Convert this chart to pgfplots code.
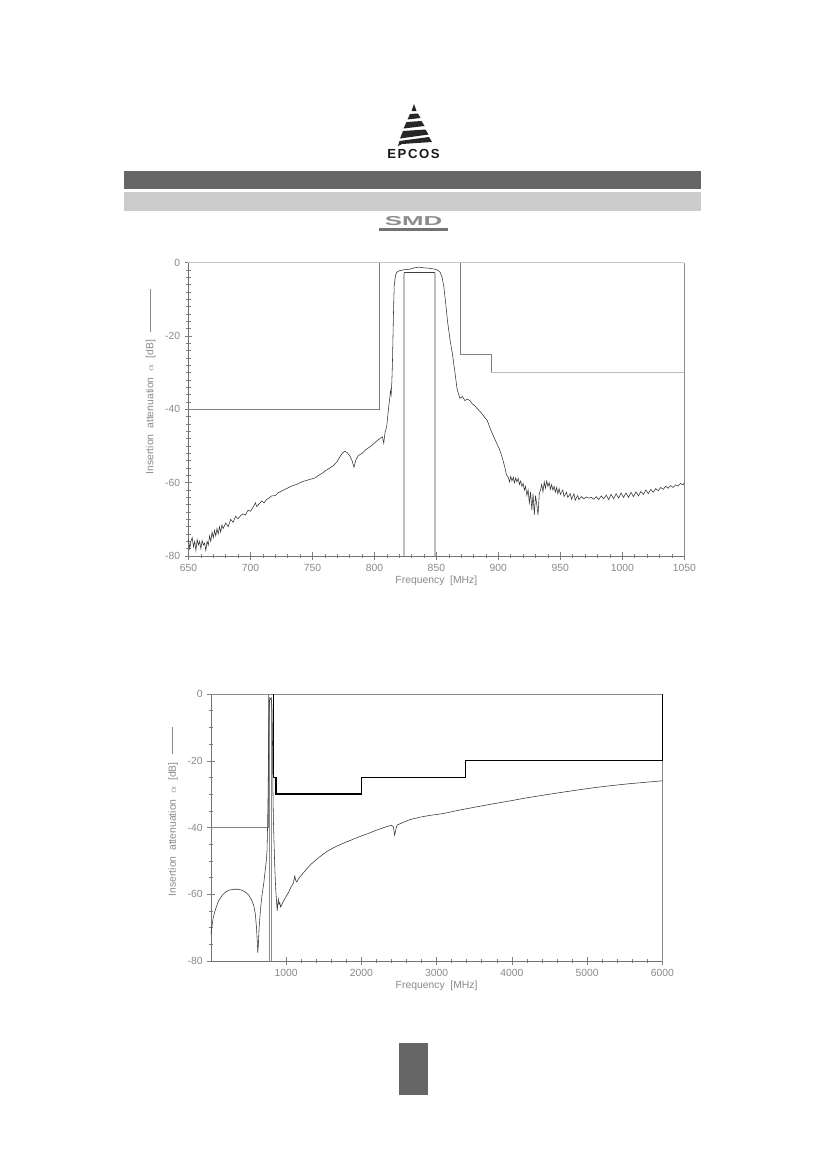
\documentclass[border=0pt]{standalone}
\usepackage{pgfplots}
\pgfplotsset{compat=1.18}
\usepackage{fontspec}
\setmainfont{Liberation Sans}
\definecolor{bardark}{HTML}{666666}
\definecolor{barlight}{HTML}{CCCCCC}
\definecolor{labgray}{HTML}{8A8A8A}
\definecolor{curve}{HTML}{333333}
\pgfplotsset{
  myax/.style={
    scale only axis, axis lines=left,
    axis line style={-, draw=black!55, line width=0.6pt},
    tick align=center,
    tick style={black!50, line width=0.4pt},
    major tick length=1.8mm, minor tick length=1.1mm,
    ticklabel style={font=\fontsize{7.5}{8}\selectfont, text=labgray},
    label style={font=\fontsize{7.5}{8}\selectfont, text=labgray},
    xlabel style={yshift=1.4mm},
    /pgf/number format/assume math mode=true,
    /pgf/number format/1000 sep={},
    clip=false,
    ymin=-80, ymax=0, ytick={-80,-60,...,0},
  }
}
\begin{document}
\begin{tikzpicture}
\path[use as bounding box, fill=white] (0,0) rectangle (210mm,-297.2mm);
\begin{scope}[x=0.25424mm,y=-0.25424mm]
  % logo
  \fill[black!85] (414,104) -- (411.5,111) -- (416.5,111) -- cycle;
  \fill[black!85] (410,114) -- (418,113.5) -- (420.5,118) -- (407.5,119.5) -- cycle;
  \fill[black!85] (406.5,122) -- (421.5,121) -- (424.5,126) -- (403.5,128.5) -- cycle;
  \fill[black!85] (403,131) -- (425.5,129.5) -- (428.5,134.5) -- (400,138.5) -- cycle;
  \fill[black!85] (399.5,141) -- (429,137) -- (432,142) -- (402,144) -- (398,146) -- cycle;
  \node[font=\fontsize{9.5}{9.5}\selectfont\bfseries\addfontfeature{LetterSpace=12}, text=black!90] at (413.5,154) {EPCOS};
  % bars
  \fill[bardark] (124,171) rectangle (701,189);
  \fill[barlight] (124,192) rectangle (701,210.5);
  % SMD logo
  \fill[black!55] (379,227.5) rectangle (448,230.5);
  \node[font=\fontsize{11}{11}\selectfont\bfseries, text=black!45, xscale=1.7, yscale=0.85] at (413.5,221) {SMD};
  % bottom block
  \fill[bardark] (399,1043) rectangle (428,1095);
\end{scope}

% ---------------- plot 1 ----------------
\begin{axis}[myax,
  at={(47.92mm,-141.36mm)}, anchor=south west,
  width=126.05mm, height=74.57mm,
  xmin=650, xmax=1050, xtick={650,700,...,1050},
  minor x tick num=4, minor y tick num=9,
  xlabel={Frequency\ \ [MHz]},
  ylabel={Insertion\ \ attenuation\ \ $\alpha$\ \ [dB]\hspace{2mm}\rule[0.6ex]{11mm}{0.4pt}},
  ylabel style={at={(ticklabel cs:0.595)}},
]
\draw[black!22, line width=1.1pt] (rel axis cs:0,1) -- (rel axis cs:1,1);
\draw[black!45, line width=0.5pt] (rel axis cs:1,1) -- (rel axis cs:1,0);
% masks
\addplot[black!50, line width=0.5pt] coordinates {(650,-40) (804,-40) (804,0)};
\addplot[black!25, line width=1.2pt] coordinates {(824,-80) (824,-2.7)};
\addplot[black!25, line width=1.2pt] coordinates {(849,-2.7) (849,-80)};
\addplot[black!75, line width=0.6pt] coordinates {(824,-2.7) (849,-2.7)};
\addplot[black!50, line width=0.5pt] coordinates {(869,0) (869,-25) (894,-25) (894,-30)};
\addplot[black!25, line width=1.1pt] coordinates {(894,-30) (1050,-30)};
% curve
\addplot[curve, line width=0.4pt] coordinates {
(650,-75.5) (651,-78) (652,-76) (653,-75) (654,-77.5) (655,-76) (656,-78.5) (657,-75.5)
(658,-77) (659,-76) (660,-78) (661,-75.8) (662,-77) (663,-76.5) (664,-78.5) (665,-76)
(666,-77) (667,-74.5) (668,-76) (669,-73.5) (670,-75) (671,-73) (672,-74.5) (673,-72.5)
(674,-74) (675,-72) (676,-73.5) (677,-71.5) (678,-72.5) (680,-71) (682,-72) (684,-70)
(686,-70.8) (688,-69.2) (690,-69.8) (692,-69) (694,-68.5) (696,-68.8) (698,-67.5) (700,-67.8)
(702,-66.8) (704,-65.5) (705,-66.5) (707,-65.8) (709,-65) (711,-65.5) (713,-64.6) (715,-64.2)
(717,-63.6) (720,-63.5) (722,-62.8) (725,-62.3) (728,-61.8) (731,-61.3) (734,-60.8) (737,-60.5)
(740,-60) (743,-59.6) (746,-59.3) (749,-59) (752,-58.7) (755,-58) (758,-57.4) (761,-56.6)
(764,-56) (767,-55.3) (770,-54.2) (772,-53) (774,-52) (776,-51.4) (778,-51.8) (780,-52.6)
(782,-54) (783.5,-55.8) (785,-53.8) (787,-52.6) (790,-52) (793,-51) (796,-50.3) (799,-49.5)
(802,-48.6) (805,-47.8) (806.5,-47.5) (807.5,-49.2) (808.5,-46.5) (810,-44.5) (811,-41) (812,-38)
(813,-35) (813.5,-36) (814,-33) (814.5,-28) (815,-20) (815.5,-12) (816,-6) (817,-3.5)
(818,-2.6) (820,-2.2) (824,-1.9) (828,-1.8) (832,-1.4) (836,-1.2) (840,-1.4) (844,-1.5)
(848,-1.7) (851,-2) (853,-2.6) (854.5,-3.8) (856,-6.5) (857.5,-11) (859,-16) (861,-21)
(863,-25) (865,-30) (866.5,-34) (868,-36) (869,-37) (871,-36.5) (873,-37.6) (875,-37.2)
(877,-37.6) (879,-38.5) (881,-39) (883,-39.8) (885,-40.5) (887,-41.3) (889,-42.2) (891,-43)
(893,-44.8) (895,-46.5) (897,-48) (899,-49.5) (901,-51) (903,-53) (905,-55.5) (906.5,-57.8)
(908,-58.5) (909,-59.8) (910,-58.3) (911,-59.5) (912,-58.5) (913,-60) (914,-58.7) (915,-59.8)
(916,-58.8) (917,-60.5) (918,-59.5) (919,-61) (920,-60.2) (921,-62) (922,-61) (923,-63.5)
(924,-62) (925,-65.5) (926,-62.5) (927,-67.5) (928,-63) (929,-68.8) (930,-63.5) (931,-66)
(932,-68.8) (933,-63) (934,-62) (935,-60.5) (936,-62.5) (937,-59.8) (938,-61.5) (939,-59.5)
(940,-61) (941,-60) (942,-61.8) (943,-60.5) (944,-62) (945,-61) (946,-62.6) (947,-61.3)
(948,-63) (949,-61.6) (950,-63.2) (952,-62) (953,-63.8) (955,-62.6) (956,-64) (958,-63)
(959,-64.5) (961,-63) (962,-64.8) (964,-63.5) (965,-64.6) (967,-63.8) (969,-64.4) (971,-63.9)
(973,-64.2) (975,-64) (977,-64.5) (979,-63.8) (981,-64.6) (983,-63.6) (985,-64.4) (987,-63.4)
(989,-64.6) (991,-63.2) (993,-64.4) (995,-63) (997,-64.2) (999,-62.8) (1001,-64) (1003,-62.8)
(1005,-64) (1007,-62.6) (1009,-63.8) (1011,-62.5) (1013,-63.6) (1015,-62.4) (1017,-63.2) (1019,-62)
(1021,-63) (1023,-61.8) (1025,-62.6) (1027,-61.6) (1029,-62.2) (1031,-61.3) (1033,-61.8) (1035,-61)
(1037,-61.5) (1039,-60.8) (1041,-61.3) (1043,-60.6) (1045,-60.9) (1047,-60.2) (1049,-60.6) (1050,-60)
};
\end{axis}

% ---------------- plot 2 ----------------
\begin{axis}[myax,
  at={(53.64mm,-244.32mm)}, anchor=south west,
  width=114.74mm, height=67.88mm,
  xmin=0, xmax=6000, xtick={1000,2000,...,6000},
  minor x tick num=4, minor y tick num=3,
  xlabel={Frequency\ \ [MHz]},
  ylabel={Insertion\ \ attenuation\ \ $\alpha$\ \ [dB]\hspace{2mm}\rule[0.6ex]{7mm}{0.4pt}},
  ylabel style={at={(ticklabel cs:0.56)}},
]
\draw[black!45, line width=0.5pt] (rel axis cs:0,1) -- (rel axis cs:1,1);
\draw[black!45, line width=0.5pt] (rel axis cs:1,1) -- (rel axis cs:1,0);
% masks
\addplot[black!50, line width=0.5pt] coordinates {(0,-40) (765,-40) (765,0)};
\addplot[black!45, line width=0.8pt] coordinates {(782,-80) (782,-1)};
\addplot[black!45, line width=0.8pt] coordinates {(808,-1) (808,-80)};
\addplot[black, line width=1pt] coordinates {(830,0) (830,-25) (862,-25) (862,-30) (2000,-30) (2000,-25) (3380,-25) (3380,-20) (6000,-20) (6000,0)};
% curve
\addplot[curve, line width=0.4pt] coordinates {
(0,-72) (10,-70) (30,-67) (60,-64.5) (100,-62) (150,-60.3) (200,-59.2) (250,-58.7)
(300,-58.5) (350,-58.5) (400,-58.7) (450,-59.2) (500,-60.2) (540,-61.7) (570,-63.5) (590,-66)
(605,-70) (615,-74) (622,-77.5) (630,-75) (640,-70) (660,-64) (680,-60) (700,-57)
(720,-53) (735,-50) (745,-47) (752,-40) (758,-32) (763,-22) (768,-12) (773,-5)
(778,-2) (785,-1.5) (795,-1.3) (805,-2) (812,-5) (818,-15) (823,-28) (830,-38)
(840,-46) (850,-53) (862,-59) (872,-62) (880,-65) (888,-63) (895,-61.5) (905,-63)
(915,-62.5) (925,-63.8) (940,-63.2) (960,-62.2) (990,-61) (1030,-59.5) (1060,-58) (1095,-56.7)
(1105,-55.5) (1115,-54.5) (1125,-55.8) (1140,-56.3) (1160,-55.5) (1190,-54.6) (1250,-53) (1320,-51.2)
(1420,-49.2) (1540,-47.2) (1650,-45.8) (1760,-44.7) (1880,-43.6) (1980,-42.7) (2100,-41.7) (2200,-40.8)
(2300,-40) (2400,-39.3) (2425,-39.8) (2440,-42.3) (2450,-41.5) (2465,-39.8) (2480,-39.2) (2560,-38.4)
(2650,-37.6) (2780,-36.9) (2900,-36.4) (3090,-35.8) (3300,-34.8) (3530,-33.8) (3750,-32.9) (3980,-32)
(4200,-31.1) (4420,-30.3) (4650,-29.5) (4860,-28.8) (5080,-28.1) (5300,-27.5) (5550,-26.9) (5800,-26.4)
(6000,-26)
};
\end{axis}
\end{tikzpicture}
\end{document}
